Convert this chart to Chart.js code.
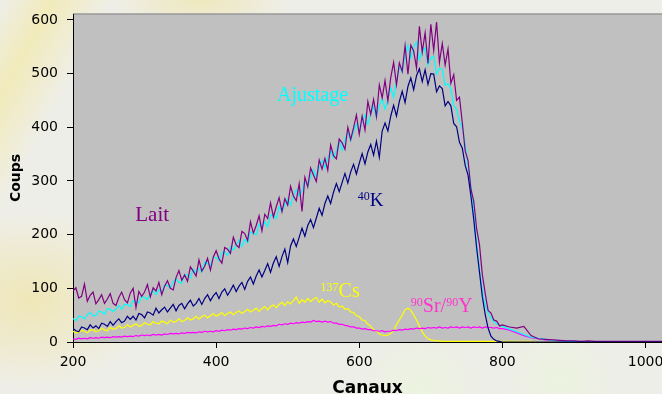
<!DOCTYPE html>
<html>
<head>
<meta charset="utf-8">
<script src="https://cdn.jsdelivr.net/npm/chart.js@4.4.1/dist/chart.umd.min.js"></script>
<style>
  html, body { margin: 0; padding: 0; }
  body {
    width: 662px; height: 394px; overflow: hidden;
    background:
      linear-gradient(118deg, rgba(0,0,0,0) 0%, rgba(244,232,150,0.55) 6%, rgba(0,0,0,0) 13%),
      radial-gradient(ellipse 120px 90px at 30px 300px, rgba(240,226,150,0.6), rgba(0,0,0,0)),
      radial-gradient(ellipse 90px 40px at 200px 0px, rgba(240,228,160,0.6), rgba(0,0,0,0)),
      radial-gradient(circle 70px at 420px 394px, rgba(236,244,222,0.9), rgba(0,0,0,0)),
      radial-gradient(circle 60px at 560px 380px, rgba(236,244,222,0.9), rgba(0,0,0,0)),
      #eeeee8;
  }
  #wrap { position: relative; width: 662px; height: 394px; }
</style>
</head>
<body>
<div id="wrap"><canvas id="spectre"></canvas></div>
<script>
// channel grid (x axis)
const channels = [
  200, 204, 208, 212, 216, 220, 224, 228, 232, 236,
  240, 244, 248, 252, 256, 260, 264, 268, 272, 276,
  280, 284, 288, 292, 296, 300, 304, 308, 312, 316,
  320, 324, 328, 332, 336, 340, 344, 348, 352, 356,
  360, 364, 368, 372, 376, 380, 384, 388, 392, 396,
  400, 404, 408, 412, 416, 420, 424, 428, 432, 436,
  440, 444, 448, 452, 456, 460, 464, 468, 472, 476,
  480, 484, 488, 492, 496, 500, 504, 508, 512, 516,
  520, 524, 528, 532, 536, 540, 544, 548, 552, 556,
  560, 564, 568, 572, 576, 580, 584, 588, 592, 596,
  600, 604, 608, 612, 616, 620, 624, 628, 632, 636,
  640, 644, 648, 652, 656, 660, 664, 668, 672, 676,
  680, 684, 688, 692, 696, 700, 704, 708, 712, 716,
  720, 724, 728, 732, 736, 740, 744, 748, 752, 756,
  760, 764, 768, 772, 776, 780, 784, 788, 792, 796,
  800,
  810, 820, 830, 840, 850, 860, 870, 880, 890, 900,
  910, 920, 930, 940, 950, 960, 970, 980, 990, 1000,
  1010, 1023
];

// Lait (mesure)
const lait = [
  95, 101, 82, 85, 108, 76, 87, 93, 71, 79,
  88, 72, 80, 90, 72, 68, 83, 93, 79, 73,
  91, 100, 64, 94, 85, 93, 107, 84, 101, 95,
  111, 88, 104, 114, 100, 97, 120, 133, 115, 125,
  113, 140, 132, 123, 153, 132, 141, 156, 134, 158,
  170, 155, 147, 176, 173, 165, 195, 181, 176, 206,
  202, 189, 224, 203, 217, 235, 207, 238, 230, 259,
  233, 252, 269, 243, 267, 255, 290, 272, 263, 295,
  243, 307, 289, 324, 311, 299, 339, 322, 342, 320,
  367, 347, 341, 378, 371, 359, 400, 377, 399, 423,
  387, 421, 395, 448, 424, 452, 420, 479, 455, 487,
  449, 493, 521, 479, 520, 504, 552, 499, 553, 542,
  510, 588, 540, 576, 519, 592, 543, 596, 521, 556,
  516, 546, 482, 498, 450, 456, 408, 356, 338, 285,
  262, 211, 181, 125, 90, 59, 54, 41, 39, 30,
  32,
  28, 26, 29, 12, 6, 5, 4, 3, 2, 2,
  1, 2, 1, 1, 1, 1, 1, 1, 1, 1,
  1, 1
];

// Ajustage (somme des composantes)
const ajustage = [
  44, 40, 48, 47, 43, 51, 55, 49, 49, 58,
  56, 52, 62, 61, 57, 61, 68, 61, 70, 70,
  66, 77, 74, 73, 85, 83, 79, 91, 95, 88,
  97, 92, 106, 105, 100, 112, 118, 111, 110, 125,
  125, 119, 136, 129, 137, 130, 149, 146, 142, 158,
  157, 151, 167, 168, 161, 178, 171, 179, 190, 178,
  191, 185, 205, 202, 200, 219, 212, 224, 215, 237,
  235, 230, 252, 243, 255, 267, 255, 272, 284, 272,
  281, 300, 289, 307, 321, 307, 324, 338, 324, 343,
  357, 343, 357, 373, 357, 377, 391, 375, 392, 406,
  390, 411, 423, 406, 424, 439, 419, 440, 453, 434,
  454, 473, 456, 486, 512, 503, 533, 553, 529, 548,
  559, 526, 542, 548, 516, 529, 532, 499, 510, 508,
  478, 481, 472, 440, 433, 412, 398, 368, 328, 290,
  240, 182, 132, 94, 68, 54, 45, 38, 34, 31,
  29,
  24, 19, 14, 9, 7, 5, 3, 2, 1, 1,
  0, 0, 0, 0, 0, 0, 0, 0, 0, 0,
  0, 0
];

// 40K
const k40 = [
  25, 21, 19, 28, 26, 23, 32, 26, 30, 25,
  35, 33, 29, 38, 31, 38, 43, 36, 39, 48,
  42, 48, 41, 53, 51, 45, 56, 54, 50, 63,
  54, 60, 65, 56, 63, 70, 58, 68, 72, 62,
  71, 78, 67, 72, 81, 70, 81, 88, 77, 86,
  92, 81, 93, 99, 87, 96, 106, 94, 104, 111,
  98, 113, 121, 108, 123, 134, 121, 133, 146, 130,
  147, 159, 141, 159, 173, 148, 179, 192, 178, 195,
  212, 197, 217, 228, 213, 231, 249, 236, 258, 272,
  258, 279, 295, 280, 297, 314, 296, 317, 331, 313,
  333, 351, 332, 354, 368, 348, 374, 344, 393, 408,
  393, 421, 441, 421, 448, 467, 446, 476, 492, 470,
  496, 509, 485, 507, 480, 500, 499, 466, 477, 472,
  440, 448, 440, 407, 401, 372, 361, 329, 311, 272,
  228, 175, 130, 84, 51, 26, 11, 5, 2, 1,
  0,
  0, 0, 0, 0, 0, 0, 0, 0, 0, 0,
  0, 0, 0, 0, 0, 0, 0, 0, 0, 0,
  0, 0
];

// 137Cs
const cs137 = [
  20, 17, 18, 22, 20, 17, 22, 23, 19, 21,
  26, 22, 21, 27, 24, 25, 30, 26, 27, 32,
  28, 31, 34, 29, 31, 36, 33, 32, 38, 35,
  34, 39, 37, 34, 41, 37, 38, 43, 38, 40,
  45, 41, 43, 48, 43, 47, 50, 45, 49, 53,
  48, 51, 55, 49, 53, 56, 51, 55, 58, 53,
  57, 61, 56, 59, 63, 57, 62, 66, 60, 66,
  69, 64, 70, 74, 68, 75, 71, 77, 84, 72,
  79, 74, 81, 75, 80, 83, 74, 80, 73, 77,
  75, 69, 72, 65, 67, 61, 62, 56, 55, 49,
  47, 41, 40, 33, 30, 22, 21, 15, 13, 12,
  13, 16, 22, 32, 41, 50, 60, 63, 59, 50,
  41, 30, 19, 11, 6, 4, 3, 2, 2, 1,
  1, 1, 1, 1, 1, 1, 1, 1, 1, 1,
  1, 1, 1, 1, 1, 1, 1, 1, 1, 1,
  1,
  1, 1, 1, 1, 0, 0, 0, 0, 0, 0,
  0, 0, 0, 0, 0, 0, 0, 0, 0, 0,
  0, 0
];

// 90Sr/90Y
const srY = [
  6, 5, 7, 6, 7, 6, 8, 7, 8, 7,
  9, 8, 9, 8, 10, 9, 10, 9, 11, 10,
  11, 10, 12, 11, 13, 12, 13, 12, 14, 13,
  14, 13, 15, 14, 16, 15, 16, 15, 17, 16,
  18, 17, 18, 17, 19, 18, 20, 19, 20, 19,
  21, 20, 22, 21, 23, 22, 24, 23, 25, 24,
  26, 25, 27, 26, 28, 27, 29, 28, 30, 29,
  31, 30, 33, 32, 34, 33, 35, 34, 36, 35,
  37, 36, 38, 37, 40, 38, 39, 37, 39, 37,
  38, 35, 35, 33, 33, 31, 30, 28, 28, 26,
  26, 24, 25, 23, 23, 21, 21, 20, 21, 19,
  20, 20, 22, 21, 23, 22, 24, 23, 25, 24,
  26, 25, 26, 25, 27, 26, 27, 26, 28, 26,
  27, 26, 28, 27, 28, 26, 28, 27, 28, 26,
  28, 27, 28, 26, 28, 27, 27, 26, 27, 25,
  25,
  22, 17, 12, 8, 6, 4, 3, 2, 1, 1,
  0, 0, 0, 0, 0, 0, 0, 0, 0, 0,
  0, 0
];

const xTicks = [200, 400, 600, 800, 1000];
const yTicks = [0, 100, 200, 300, 400, 500, 600];

// text labels next to the curves, anchored in data units [canal, coups]
const curveLabels = [
  { at: [485, 449], color: '#00ffff', parts: [['Ajustage', 20, 0]] },
  { at: [287, 226], color: '#800080', parts: [['Lait', 21, 0]] },
  { at: [598, 254], color: '#000080', parts: [['40', 12, 6], ['K', 19, 0]] },
  { at: [546, 84], color: '#ffff00', parts: [['137', 12, 6], ['Cs', 20, 0]] },
  { at: [672, 56], color: '#ff33cc', parts: [['90', 12, 6], ['Sr/', 20, 0], ['90', 12, 6], ['Y', 20, 0]] }
];

const series = values => channels.map((c, i) => ({ x: c, y: values[i] }));

const plotBackground = {
  id: 'plotBackground',
  beforeDraw(chart) {
    const { ctx, chartArea: a } = chart;
    ctx.save();
    ctx.fillStyle = '#c0c0c0';
    ctx.fillRect(a.left, a.top, a.right - a.left, a.bottom - a.top);
    ctx.strokeStyle = '#989898';
    ctx.lineWidth = 1.5;
    ctx.beginPath();
    ctx.moveTo(a.left, a.top);
    ctx.lineTo(a.right, a.top);
    ctx.stroke();
    ctx.restore();
  }
};

const labelPlugin = {
  id: 'curveLabels',
  afterDatasetsDraw(chart) {
    const { ctx, scales } = chart;
    ctx.save();
    ctx.textBaseline = 'alphabetic';
    curveLabels.forEach(lab => {
      let x = scales.x.getPixelForValue(lab.at[0]);
      const y = scales.y.getPixelForValue(lab.at[1]);
      ctx.fillStyle = lab.color;
      lab.parts.forEach(([txt, size, rise]) => {
        ctx.font = size + 'px "Liberation Serif", "Times New Roman", serif';
        ctx.fillText(txt, x, y - rise);
        x += ctx.measureText(txt).width;
      });
    });
    ctx.restore();
  }
};

const line = (label, values, color) => ({
  label,
  data: series(values),
  borderColor: color,
  borderWidth: 1.2,
  pointRadius: 0,
  tension: 0,
  fill: false
});

// first dataset is drawn on top
new Chart(document.getElementById('spectre'), {
  type: 'line',
  data: {
    datasets: [
      line('40K', k40, '#000080'),
      line('Lait', lait, '#800080'),
      line('Ajustage', ajustage, '#00ffff'),
      line('90Sr/90Y', srY, '#ff00ff'),
      line('137Cs', cs137, '#ffff00')
    ]
  },
  options: {
    responsive: true,
    maintainAspectRatio: false,
    animation: false,
    events: [],
    layout: { padding: { top: 14, left: 0, right: 0, bottom: 0 } },
    plugins: {
      legend: { display: false },
      tooltip: { enabled: false }
    },
    scales: {
      x: {
        type: 'linear',
        min: 200,
        max: 1023,
        afterBuildTicks: s => { s.ticks = xTicks.map(v => ({ value: v })); },
        afterFit: s => { s.height = 52; s.paddingLeft = 0; s.paddingRight = 0; },
        ticks: {
          color: '#000',
          padding: 6,
          maxRotation: 0,
          autoSkip: false,
          callback: v => String(v),
          font: { family: 'DejaVu Sans', size: 14 }
        },
        grid: { drawOnChartArea: false, drawTicks: true, tickLength: 6, color: '#000' },
        border: { color: '#000', width: 1 },
        title: {
          display: true,
          text: 'Canaux',
          color: '#000',
          padding: 0,
          font: { family: 'DejaVu Sans', size: 17, weight: 'bold', lineHeight: 0.6 }
        }
      },
      y: {
        min: 0,
        max: 611,
        afterBuildTicks: s => { s.ticks = yTicks.map(v => ({ value: v })); },
        afterFit: s => { s.width = 73; s.paddingTop = 0; s.paddingBottom = 0; },
        ticks: {
          color: '#000',
          padding: 9,
          callback: v => String(v),
          font: { family: 'DejaVu Sans', size: 14 }
        },
        grid: { drawOnChartArea: false, drawTicks: true, tickLength: 6, color: '#000' },
        border: { color: '#000', width: 1 },
        title: {
          display: true,
          text: 'Coups',
          color: '#000',
          padding: { top: 8 },
          font: { family: 'DejaVu Sans', size: 14, weight: 'bold' }
        }
      }
    }
  },
  plugins: [plotBackground, labelPlugin]
});
</script>
</body>
</html>
